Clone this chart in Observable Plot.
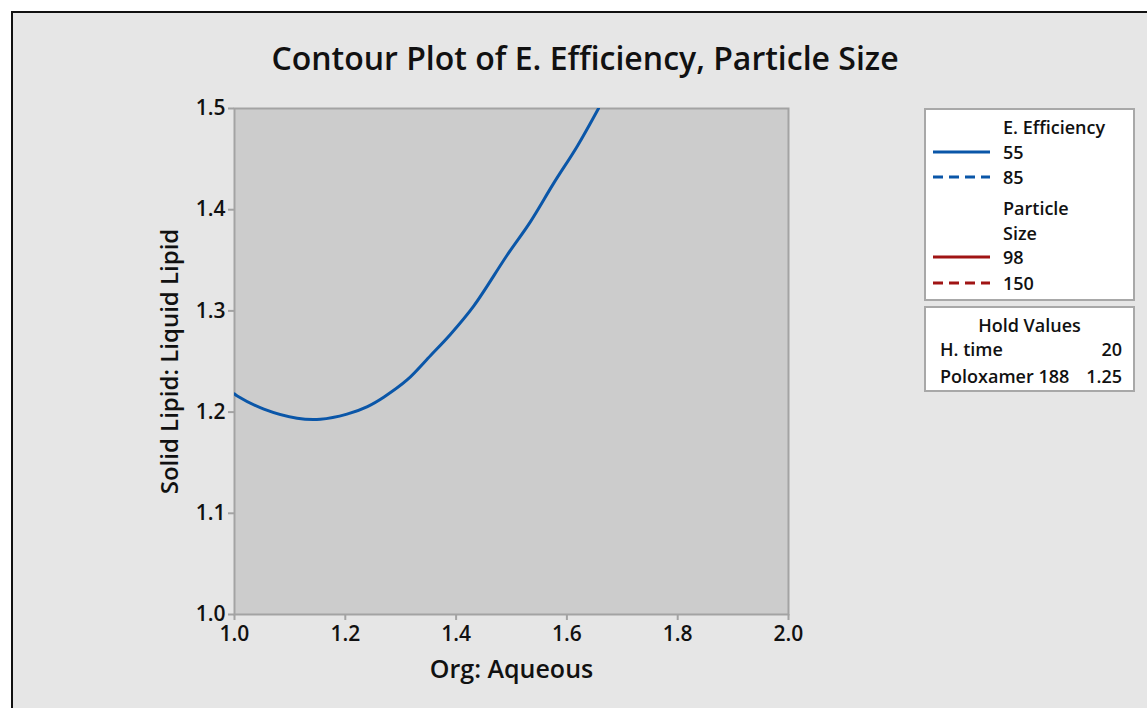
<!DOCTYPE html>
<html>
<head>
<meta charset="utf-8">
<script src="https://cdn.jsdelivr.net/npm/d3@7"></script>
<script src="https://cdn.jsdelivr.net/npm/@observablehq/plot@0.6"></script>
<style>
  html, body { margin: 0; padding: 0; background: #ffffff; }
  #wrap { position: relative; width: 1147px; height: 708px; overflow: hidden; font-family: "Open Sans", "Noto Sans", sans-serif; }
  #panel { position: absolute; left: 11px; top: 11px; width: 1200px; height: 800px; background: #e6e6e6; border-left: 2px solid #111; border-top: 2px solid #111; }
  #title { position: absolute; left: 0; top: 36px; width: 1170px; text-align: center; font-size: 32px; font-weight: 600; color: #111; }
  #chart { position: absolute; left: 0; top: 0; }
  #chart g[aria-label$="tick label"] { font-size: 21px; font-weight: 600; }
  .box { position: absolute; left: 924px; width: 211px; background: #fff; border: 2px solid #a8a8a8; box-sizing: border-box; }
  .lg { position: absolute; font-size: 18px; font-weight: 600; color: #111; line-height: 22px; white-space: nowrap; }
  .sw { position: absolute; left: 933px; }
</style>
</head>
<body>
<div id="wrap">
  <div id="panel"></div>
  <div id="title">Contour Plot of E. Efficiency, Particle Size</div>
  <div id="chart"></div>
  <div id="legend"></div>
</div>
<script>
// Contour line: E. Efficiency = 55 (the only contour visible in the region)
const contourX = [1.000, 1.005, 1.053, 1.113, 1.155, 1.203, 1.240, 1.270, 1.312, 1.354, 1.390, 1.432, 1.492, 1.534, 1.576, 1.619, 1.657];
const contourY = [1.218, 1.216, 1.203, 1.194, 1.193, 1.198, 1.2055, 1.215, 1.232, 1.256, 1.277, 1.305, 1.355, 1.388, 1.426, 1.463, 1.500];

const xTicks = [1.0, 1.2, 1.4, 1.6, 1.8, 2.0];
const yTicks = [1.0, 1.1, 1.2, 1.3, 1.4, 1.5];

const legendTitle1 = "E. Efficiency";
const effLevels = ["55", "85"];
const legendTitle2 = ["Particle", "Size"];
const sizeLevels = ["98", "150"];
const holdNames = ["H. time", "Poloxamer 188"];
const holdValues = ["20", "1.25"];

const blue = "#0a56a8";
const red = "#a01414";

const contour = contourX.map((x, i) => ({x, y: contourY[i]}));

const chart = Plot.plot({
  width: 1147,
  height: 708,
  marginLeft: 234,
  marginRight: 359,
  marginTop: 108,
  marginBottom: 94,
  style: {background: "transparent", fontFamily: "'Open Sans', 'Noto Sans', sans-serif", fontSize: "20px", fontWeight: 600, color: "#111", overflow: "visible"},
  x: {domain: [1, 2], ticks: xTicks, tickFormat: d3.format(".1f"), label: null},
  y: {domain: [1, 1.5], ticks: yTicks, tickFormat: d3.format(".1f"), label: null},
  marks: [
    Plot.frame({fill: "#cccccc", stroke: "#a3a3a3", strokeWidth: 2}),
    Plot.axisX({ticks: xTicks, tickFormat: d3.format(".1f"), tickSize: 6, stroke: "#a3a3a3", strokeWidth: 2, tickPadding: 6,
      fill: "#111", label: null}),
    Plot.axisY({ticks: yTicks, tickFormat: d3.format(".1f"), tickSize: 6, stroke: "#a3a3a3", strokeWidth: 2, tickPadding: 3,
      fill: "#111", label: null}),
    Plot.line(contour, {x: "x", y: "y", stroke: blue, strokeWidth: 3, curve: "catmull-rom", clip: true}),
    Plot.text(["Org: Aqueous"], {frameAnchor: "bottom", dy: 63, text: d => d, fontSize: 25, fontWeight: 600, fill: "#111"}),
    Plot.text(["Solid Lipid: Liquid Lipid"], {frameAnchor: "left", dx: -64, rotate: -90, textAnchor: "middle", text: d => d, fontSize: 24, fontWeight: 600, fill: "#111"})
  ]
});
document.getElementById("chart").appendChild(chart);

// Legend (HTML)
const lg = document.getElementById("legend");
function add(html) { lg.insertAdjacentHTML("beforeend", html); }
add(`<div class="box" style="top:108px;height:193px"></div>`);
add(`<div class="box" style="top:306px;height:86px"></div>`);
function label(text, x, yc, extra = "") {
  add(`<div class="lg" style="left:${x}px;top:${yc - 11}px;${extra}">${text}</div>`);
}
function swatch(color, dashed, yc) {
  add(`<svg class="sw" style="top:${yc - 3}px" width="60" height="6"><line x1="0" x2="57" y1="3" y2="3" stroke="${color}" stroke-width="3" ${dashed ? 'stroke-dasharray="10,6"' : ''}/></svg>`);
}
label(legendTitle1, 1003, 127);
effLevels.forEach((t, i) => { const yc = 152 + i * 25; swatch(blue, i === 1, yc); label(t, 1003, yc); });
label(legendTitle2[0], 1003, 208);
label(legendTitle2[1], 1003, 233);
sizeLevels.forEach((t, i) => { const yc = 257 + i * 26; swatch(red, i === 1, yc); label(t, 1003, yc); });
label("Hold Values", 924, 325, "width:211px;text-align:center;");
holdNames.forEach((n, i) => {
  const yc = 349 + i * 27;
  label(n, 940, yc);
  label(holdValues[i], 1022, yc, "width:100px;text-align:right;");
});
</script>
</body>
</html>
